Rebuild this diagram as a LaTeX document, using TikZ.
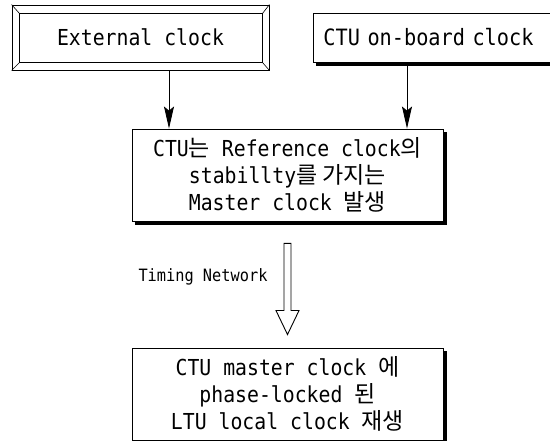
\documentclass[tikz,border=0pt]{standalone}
\usepackage{fontspec}
\setmainfont[FakeStretch=0.9]{DejaVu Sans Mono}
\newfontfamily\krfont{Noto Sans CJK KR}
\newcommand\K[1]{{\krfont\fontsize{23}{27}\selectfont #1}}
\usetikzlibrary{arrows.meta,calc}
\tikzset{
  txt/.style={font=\fontsize{22}{27}\selectfont, align=center},
  plainbox/.style={draw, line width=0.9pt, fill=white, inner sep=0pt},
  conn/.style={line width=0.9pt, -{Stealth[length=22pt,width=10pt,inset=4pt]}},
  shade/.style={line width=3.5pt, line cap=butt, draw=black},
}
\begin{document}
\begin{tikzpicture}[x=1pt,y=-1pt]
\useasboundingbox (0,0) rectangle (550,441);
% External clock (bevelled frame)
\node[draw, line width=0.9pt, minimum width=257pt, minimum height=65pt, inner sep=0pt, txt] (ext) at (140.5,37.5) {External clock};
\coordinate (ia) at ($(ext.north west)+(8,9)$);
\coordinate (ib) at ($(ext.north east)+(-7,9)$);
\coordinate (ic) at ($(ext.south east)+(-7,-8)$);
\coordinate (id) at ($(ext.south west)+(8,-8)$);
\draw[line width=0.7pt] (ia) -- (ib) -- (ic) -- (id) -- cycle;
\draw[line width=0.6pt] (ext.north west) -- (ia) (ext.north east) -- (ib) (ext.south east) -- (ic) (ext.south west) -- (id);
% CTU on-board clock
\node[plainbox, minimum height=49pt, text width=227pt, align=left, inner xsep=10pt, font=\fontsize{22.5}{27}\selectfont, anchor=west] (onb) at (313,37.5) {CTU on-board clock};
\draw[shade] ($(onb.south west)+(3,2)$) -- ($(onb.south east)+(3,2)$);
% middle box
\node[plainbox, minimum width=311pt, minimum height=92pt, txt] (mid) at (287.5,175)
 {CTU\K{는} Reference clock\K{의}\\stabillty\K{를 가지는}\\Master clock \K{발생}};
\draw[shade] ($(mid.south west)+(3,2)$) -- ($(mid.south east)+(2,2)$) -- ($(mid.north east)+(2,3)$);
% bottom box
\node[plainbox, minimum width=311pt, minimum height=92pt, txt] (bot) at (287.5,394)
 {CTU master clock \K{에}\\phase-locked \K{된}\\LTU local clock \K{재생}};
\draw[shade] ($(bot.south west)+(3,2)$) -- ($(bot.south east)+(2,2)$) -- ($(bot.north east)+(2,3)$);
% connectors
\coordinate (xl) at (169,0);
\coordinate (xr) at (407,0);
\draw[conn] (ext.south -| xl) -- (mid.north -| xl);
\draw[conn] (onb.south -| xr) -- (mid.north -| xr);
% hollow arrow
\coordinate (ha) at ($(mid.south)+(0,22)$);
\coordinate (hb) at ($(bot.north)+(0,-13)$);
\draw[line width=0.9pt, fill=white] ($(ha)+(-3.5,0)$) -- ($(ha)+(3.5,0)$) -- ($(hb)+(3.5,-24)$) -- ($(hb)+(11.5,-24)$) -- (hb) -- ($(hb)+(-11.5,-24)$) -- ($(hb)+(-3.5,-24)$) -- cycle;
\node[font=\fontsize{17}{20}\selectfont] (tn) at (203,277) {Timing Network};
\end{tikzpicture}
\end{document}
